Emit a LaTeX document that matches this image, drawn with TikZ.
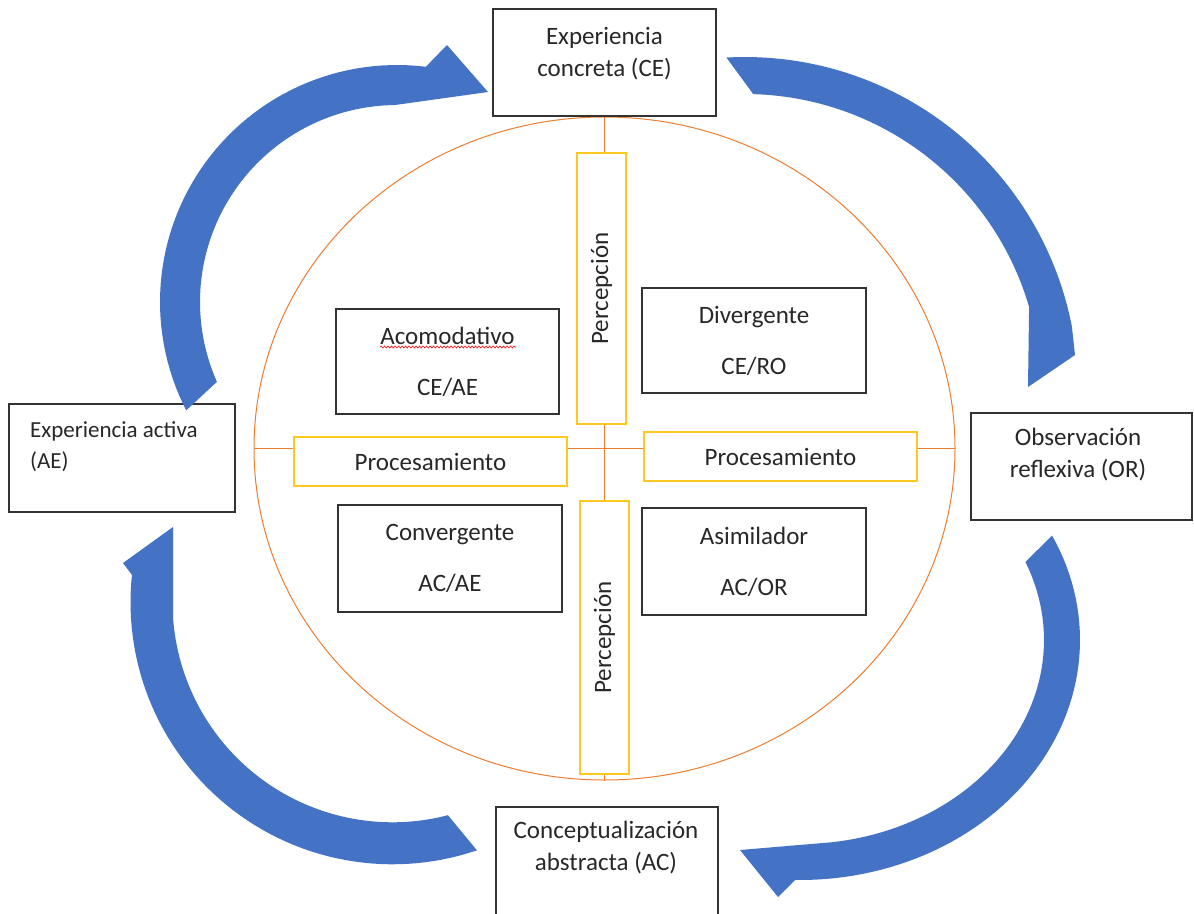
\documentclass[tikz,border=0pt]{standalone}
\usepackage{fontspec}
\setmainfont{Carlito}
\usetikzlibrary{shapes.geometric,decorations.pathmorphing}
\definecolor{arrowblue}{RGB}{68,114,196}
\definecolor{ringorange}{RGB}{237,125,49}
\definecolor{boxyellow}{RGB}{255,200,30}
\definecolor{txtgray}{RGB}{40,40,40}
\begin{document}
\begin{tikzpicture}[x=1pt,y=-1pt,
  lbl/.style={font=\fontsize{25}{32}\selectfont, text=txtgray, align=center, inner sep=0},
  blackbox/.style={draw=black!80, line width=1.4pt, fill=white, inner sep=0},
  ybox/.style={draw=boxyellow, line width=1.4pt, fill=white, inner sep=0, font=\fontsize{25}{32}\selectfont, text=txtgray},
  ringline/.style={draw=ringorange, line width=1pt},
  cyclearrow/.style={fill=arrowblue}
]
\useasboundingbox (0,0) rectangle (1194,913);
\fill[white] (0,0) rectangle (1194,913);

% ring and cross lines
\node[ellipse, ringline, minimum width=701, minimum height=663, inner sep=0, outer sep=0] (ring) at (604.5,448.5) {};
\node[blackbox, minimum width=223, minimum height=107] (ce) at (604.5,62.5) {};
\node[lbl] (cet) at (604.5,54) {Experiencia\\concreta (CE)};
\draw[ringline] (ring.west) -- (ring.east);
\draw[ringline] (ce.south) -- (ring.south);

% yellow axis boxes
\node[ybox, rotate=90, minimum width=271, minimum height=49] (p1) at (601.5,288.5) {Percepción};
\node[ybox, rotate=90, minimum width=273, minimum height=49] (p2) at (604.5,637.5) {Percepción};
\node[ybox, minimum width=273, minimum height=49] (pr1) at (430.5,461.5) {Procesamiento};
\node[ybox, minimum width=273, minimum height=49] (pr2) at (780.5,456.5) {Procesamiento};

% style boxes
\node[blackbox, lbl, minimum width=223, minimum height=105] (aco) at (447.5,361.5) {Acomodativo\\[19pt]CE/AE};
\node[blackbox, lbl, minimum width=224, minimum height=105] (div) at (754,340.5) {Divergente\\[19pt]CE/RO};
\node[blackbox, lbl, minimum width=224, minimum height=107] (conv) at (450,558.5) {Convergente\\[19pt]AC/AE};
\node[blackbox, lbl, minimum width=224, minimum height=107] (asim) at (754,561.5) {Asimilador\\[19pt]AC/OR};
\draw[red, line width=0.6pt, decorate, decoration={snake, amplitude=1pt, segment length=3.5pt}] (380,347) -- (516,347);

% outer stage boxes
\node[blackbox, minimum width=226, minimum height=108] (ae) at (122,458) {};
\node[lbl, align=left, anchor=west, font=\fontsize{23}{31}\selectfont] (aet) at (30,446.5) {Experiencia activa\\(AE)};
\node[blackbox, minimum width=221, minimum height=107] (or) at (1081.5,466.5) {};
\node[lbl] (ort) at (1078,455) {Observación\\reflexiva (OR)};
\node[blackbox, minimum width=222, minimum height=124] (ac) at (607,869) {};
\node[lbl] (act) at (606,847.5) {Conceptualización\\abstracta (AC)};

% curved cycle arrows
\fill[cyclearrow] plot[domain=152.8:277, samples=60] ({397+237*cos(\x)},{302+237*sin(\x)})
  -- (447,45) -- (488,92)
  -- plot[domain=269.4:156.1, samples=60] ({397+197*cos(\x)},{302+197*sin(\x)}) -- cycle;
\fill[cyclearrow] plot[domain=266.8:349, samples=60] ({745+333*cos(\x)},{390+333*sin(\x)})
  -- (1075,355) -- (1028,387)
  -- plot[domain=343.7:271.6, samples=60] ({745+296*cos(\x)},{390+296*sin(\x)}) -- cycle;
\fill[cyclearrow] plot[domain=-25.8:91, samples=60] ({800+280*cos(\x)},{640+240*sin(\x)})
  -- (778,897) -- (740,850)
  -- plot[domain=82.5:-22.5, samples=60] ({800+244*cos(\x)},{640+204*sin(\x)}) -- cycle;
\fill[cyclearrow] plot[domain=71.2:186, samples=60] ({392.5+262*cos(\x)},{602.3+262*sin(\x)})
  -- (123,563) -- (173,527)
  -- plot[domain=176:75.4, samples=60] ({392.5+220*cos(\x)},{602.3+220*sin(\x)}) -- cycle;
\end{tikzpicture}
\end{document}
